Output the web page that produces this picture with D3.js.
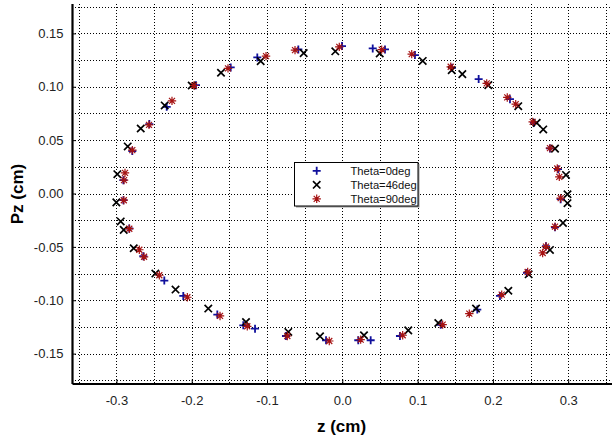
<!DOCTYPE html>
<html>
<head>
<meta charset="utf-8">
<script src="https://cdn.jsdelivr.net/npm/d3@7"></script>
<style>
  body { margin: 0; background: #fff; }
  svg { display: block; font-family: "Liberation Sans", Arial, sans-serif; }
  .grid line { stroke: #000; stroke-width: 1; stroke-dasharray: 1,2; shape-rendering: crispEdges; }
  .axis path, .axis line { stroke: #000; }
  .axis text { font-size: 13px; fill: #222; }
</style>
</head>
<body>
<svg id="chart" width="612" height="440"></svg>
<script>
//DATA (z, Pz in cm)
const theta0Z = [-0.2789,-0.2563,-0.2332,-0.1943,-0.1482,-0.1129,-0.0584,-0.0004,0.0404,0.0567,0.0965,0.1457,0.1811,0.2227,0.2546,0.2758,0.2865,0.2900,0.2825,0.2705,0.2453,0.2094,0.1793,0.1307,0.0766,0.0377,0.0212,-0.0216,-0.0748,-0.1159,-0.1315,-0.1660,-0.2112,-0.2364,-0.2643,-0.2829,-0.2908,-0.2908];
const theta0Pz = [0.0397,0.0650,0.0812,0.1015,0.1181,0.1275,0.1350,0.1381,0.1359,0.1350,0.1297,0.1177,0.1072,0.0884,0.0662,0.0422,0.0228,-0.0053,-0.0316,-0.0494,-0.0744,-0.0960,-0.1087,-0.1230,-0.1335,-0.1375,-0.1375,-0.1375,-0.1335,-0.1266,-0.1235,-0.1134,-0.0960,-0.0816,-0.0588,-0.0328,-0.0063,0.0125];

const theta46Z = [-0.2850,-0.2677,-0.2359,-0.2000,-0.1611,-0.1084,-0.0513,-0.0093,0.0497,0.1068,0.1453,0.1594,0.1939,0.2337,0.2582,0.2669,0.2825,0.2971,0.2991,0.2991,0.2931,0.2758,0.2475,0.2205,0.1776,0.1275,0.0876,0.0288,-0.0296,-0.0717,-0.1279,-0.1780,-0.2215,-0.2483,-0.2770,-0.2903,-0.2943,-0.3001,-0.2988];
const theta46Pz = [0.0441,0.0609,0.0825,0.1012,0.1131,0.1240,0.1315,0.1332,0.1312,0.1242,0.1156,0.1118,0.1015,0.0818,0.0662,0.0600,0.0420,0.0174,-0.0007,-0.0091,-0.0276,-0.0529,-0.0757,-0.0911,-0.1078,-0.1213,-0.1282,-0.1328,-0.1338,-0.1297,-0.1204,-0.1078,-0.0900,-0.0750,-0.0513,-0.0341,-0.0262,-0.0083,0.0181];

const theta90Z = [-0.2789,-0.2567,-0.2262,-0.1969,-0.1518,-0.1013,-0.0628,-0.0040,0.0523,0.0922,0.1440,0.1918,0.2191,0.2303,0.2529,0.2758,0.2855,0.2882,0.2900,0.2825,0.2705,0.2661,0.2462,0.2117,0.1687,0.1333,0.0802,0.0244,-0.0173,-0.0730,-0.1262,-0.1624,-0.2058,-0.2430,-0.2633,-0.2696,-0.2829,-0.2902,-0.2899,-0.2886];
const theta90Pz = [0.0406,0.0643,0.0868,0.1012,0.1172,0.1287,0.1343,0.1374,0.1348,0.1306,0.1187,0.1031,0.0900,0.0837,0.0671,0.0425,0.0234,0.0156,-0.0044,-0.0311,-0.0497,-0.0557,-0.0735,-0.0947,-0.1125,-0.1228,-0.1328,-0.1369,-0.1382,-0.1335,-0.1244,-0.1147,-0.0972,-0.0766,-0.0593,-0.0527,-0.0330,-0.0063,0.0125,0.0193];

const seriesNames = ["Theta=0deg", "Theta=46deg", "Theta=90deg"];

const xTicks = [-0.3, -0.2, -0.1, 0.0, 0.1, 0.2, 0.3];
const xTickLabels = ["-0.3", "-0.2", "-0.1", "0.0", "0.1", "0.2", "0.3"];
const yTicks = [-0.15, -0.10, -0.05, 0.00, 0.05, 0.10, 0.15];
const yTickLabels = ["-0.15", "-0.10", "-0.05", "0.00", "0.05", "0.10", "0.15"];
const xGrid = [-0.35, -0.3, -0.25, -0.2, -0.15, -0.1, -0.05, 0, 0.05, 0.1, 0.15, 0.2, 0.25, 0.3, 0.35];
const yGrid = [-0.175, -0.15, -0.125, -0.1, -0.075, -0.05, -0.025, 0, 0.025, 0.05, 0.075, 0.1, 0.125, 0.15, 0.175];

//LAYOUT
const plotLeft = 72, plotRight = 612.6, plotTop = 3.5, plotBottom = 383.5;
const x = d3.scaleLinear().domain([-0.359, 0.359]).range([plotLeft, plotRight]);
const y = d3.scaleLinear().domain([-0.178, 0.178]).range([plotBottom, plotTop]);
const snap = v => Math.round(v) + 0.5;

const svg = d3.select("#chart");

//GRID
const grid = svg.append("g").attr("class", "grid");
grid.selectAll(".vg").data(xGrid).enter().append("line")
    .attr("x1", d => snap(x(d))).attr("x2", d => snap(x(d)))
    .attr("y1", plotTop).attr("y2", plotBottom);
grid.selectAll(".hg").data(yGrid).enter().append("line")
    .attr("x1", plotLeft).attr("x2", 612)
    .attr("y1", d => snap(y(d))).attr("y2", d => snap(y(d)));

//AXES
const xAxis = d3.axisBottom(x).tickValues(xTicks)
    .tickFormat((d, i) => xTickLabels[i]).tickSizeInner(-4).tickSizeOuter(0).tickPadding(12);
const gx = svg.append("g").attr("class", "axis").attr("transform", "translate(0," + plotBottom + ")").call(xAxis);
gx.select(".domain").attr("stroke-width", 2.2);

const yAxis = d3.axisLeft(y).tickValues(yTicks)
    .tickFormat((d, i) => yTickLabels[i]).tickSizeInner(-4).tickSizeOuter(0).tickPadding(8.5);
const gy = svg.append("g").attr("class", "axis").attr("transform", "translate(" + plotLeft + ",0)").call(yAxis);
gy.select(".domain").attr("stroke-width", 2.2);

//MARKERS
const markers = {
    plus: { path: "M-4,0H4M0,-4V4", color: "#10109c", width: 1.8 },
    cross: { path: "M-3.7,-3.7L3.7,3.7M-3.7,3.7L3.7,-3.7", color: "#000", width: 1.7 },
    star: { path: "M-4.2,0H4.2M0,-4.2V4.2M-3,-3L3,3M-3,3L3,-3", color: "#a51212", width: 1.2 }
};

function drawSeries(zs, pzs, m){
    const pts = zs.map((z, i) => [z, pzs[i]]);
    svg.append("g").selectAll("path").data(pts).enter().append("path")
        .attr("d", m.path)
        .attr("transform", d => "translate(" + x(d[0]) + "," + y(d[1]) + ")")
        .attr("fill", "none")
        .attr("stroke", m.color)
        .attr("stroke-width", m.width);
}
drawSeries(theta0Z, theta0Pz, markers.plus);
drawSeries(theta46Z, theta46Pz, markers.cross);
drawSeries(theta90Z, theta90Pz, markers.star);

//AXIS TITLES
svg.append("text").attr("x", 341.5).attr("y", 432)
    .attr("text-anchor", "middle").attr("font-size", 17).attr("font-weight", "bold")
    .text("z (cm)");
svg.append("text").attr("transform", "translate(23,194) rotate(-90)")
    .attr("text-anchor", "middle").attr("font-size", 17).attr("font-weight", "bold")
    .text("Pz (cm)");

//LEGEND
const legend = svg.append("g").attr("transform", "translate(294.5,162.5)");
legend.append("rect").attr("x", 1.5).attr("y", 1.5).attr("width", 123.5).attr("height", 43.5)
    .attr("fill", "#999");
legend.append("rect").attr("width", 123.5).attr("height", 43.5)
    .attr("fill", "#fff").attr("stroke", "#000").attr("stroke-width", 1);
const legMarks = [markers.plus, markers.cross, markers.star];
const rows = legend.selectAll(".row").data(seriesNames).enter().append("g")
    .attr("transform", (d, i) => "translate(0," + (8.3 + i * 14) + ")");
rows.append("path")
    .attr("d", (d, i) => legMarks[i].path)
    .attr("transform", "translate(22.2,0)")
    .attr("fill", "none")
    .attr("stroke", (d, i) => legMarks[i].color)
    .attr("stroke-width", (d, i) => legMarks[i].width);
rows.append("text").attr("x", 56).attr("dy", "0.35em")
    .attr("font-size", 11.2).attr("fill", "#111")
    .text(d => d);
</script>
</body>
</html>
